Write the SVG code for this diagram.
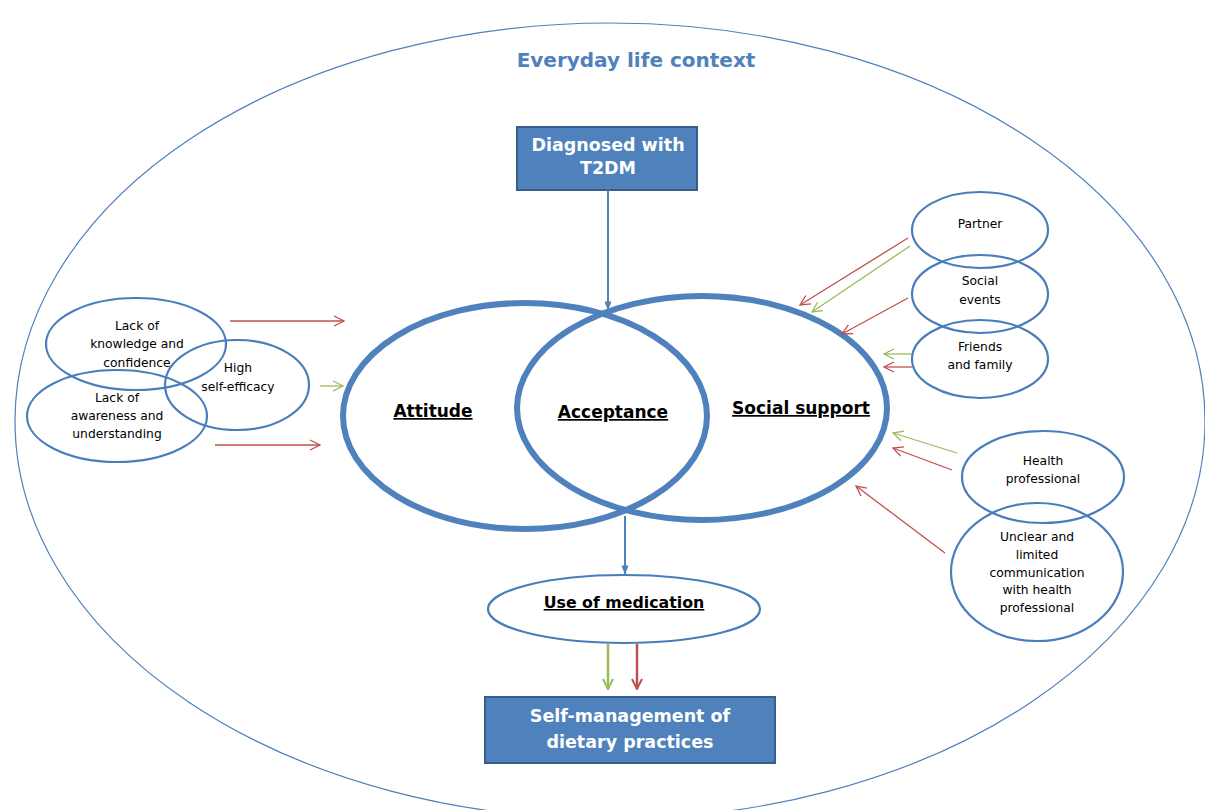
<svg xmlns="http://www.w3.org/2000/svg" width="1205" height="810" viewBox="0 0 1205 810">
<defs>
<style>
.t{font-family:"DejaVu Sans",Verdana,sans-serif;text-anchor:middle;}
.sm{font-size:12.3px;fill:#000;}
.bw{font-size:17.5px;font-weight:bold;fill:#fff;}
.bu{font-size:17px;font-weight:bold;fill:#000;text-decoration:underline;}
.small{fill:#fff;stroke:#4A7EBB;stroke-width:2.2;}
.big{fill:none;stroke:#4F81BD;stroke-width:6;}
.box{fill:#4F81BD;stroke:#385D8A;stroke-width:2;}
.r{stroke:#C0504D;stroke-width:1.3;fill:none;marker-end:url(#mr);}
.g{stroke:#9BBB59;stroke-width:1.3;fill:none;marker-end:url(#mg);}
.b{stroke:#4F81BD;stroke-width:2;fill:none;marker-end:url(#mb);}
.r2{stroke:#C0504D;stroke-width:2.5;fill:none;marker-end:url(#mr2);}
.g2{stroke:#9BBB59;stroke-width:2.5;fill:none;marker-end:url(#mg2);}
</style>
<marker id="mr" viewBox="0 0 12 12" refX="11" refY="6" markerWidth="12" markerHeight="12" markerUnits="userSpaceOnUse" orient="auto"><path d="M1,1 L11,6 L1,11" fill="none" stroke="#C0504D" stroke-width="1.3"/></marker>
<marker id="mg" viewBox="0 0 12 12" refX="11" refY="6" markerWidth="12" markerHeight="12" markerUnits="userSpaceOnUse" orient="auto"><path d="M1,1 L11,6 L1,11" fill="none" stroke="#9BBB59" stroke-width="1.3"/></marker>
<marker id="mb" viewBox="0 0 10 10" refX="9.5" refY="5" markerWidth="9" markerHeight="9" markerUnits="userSpaceOnUse" orient="auto"><path d="M0,1 L10,5 L0,9 Z" fill="#4F81BD"/></marker>
<marker id="mr2" viewBox="0 0 12 12" refX="11" refY="6" markerWidth="12" markerHeight="12" markerUnits="userSpaceOnUse" orient="auto"><path d="M1,1 L11,6 L1,11" fill="none" stroke="#C0504D" stroke-width="2"/></marker>
<marker id="mg2" viewBox="0 0 12 12" refX="11" refY="6" markerWidth="12" markerHeight="12" markerUnits="userSpaceOnUse" orient="auto"><path d="M1,1 L11,6 L1,11" fill="none" stroke="#9BBB59" stroke-width="2"/></marker>
</defs>
<rect width="1205" height="810" fill="#fff"/>
<g id="context">
<ellipse cx="610" cy="421" rx="595" ry="398" fill="none" stroke="#4F81BD" stroke-width="1.2"/>
<text class="t" x="636" y="67" style="font-size:20px;font-weight:bold;fill:#4F81BD">Everyday life context</text>
</g>
<g id="diagnosed">
<rect class="box" x="517" y="127" width="180" height="63"/>
<text class="t bw" x="608" y="151">Diagnosed with</text>
<text class="t bw" x="608" y="174">T2DM</text>
</g>
<g id="attitude">
<ellipse class="big" cx="525" cy="416" rx="182" ry="113"/>
<text class="t bu" x="433" y="417">Attitude</text>
</g>
<g id="social-support">
<ellipse class="big" cx="702" cy="408" rx="185" ry="112"/>
<text class="t bu" x="801" y="414">Social support</text>
</g>
<g id="acceptance">
<text class="t bu" x="613" y="418">Acceptance</text>
</g>
<g id="lack-knowledge">
<ellipse class="small" cx="136" cy="344" rx="90" ry="46" fill="none"/>
</g>
<g id="lack-awareness">
<ellipse class="small" cx="117" cy="416" rx="90" ry="46" style="fill:none"/>
</g>
<g id="self-efficacy">
<ellipse class="small" cx="237" cy="385" rx="72" ry="45" style="fill:none"/>
</g>
<g id="left-texts">
<text class="t sm" x="137" y="330">Lack of</text>
<text class="t sm" x="137" y="348">knowledge and</text>
<text class="t sm" x="137" y="367">confidence</text>
<text class="t sm" x="238" y="372">High</text>
<text class="t sm" x="238" y="391">self-efficacy</text>
<text class="t sm" x="117" y="402">Lack of</text>
<text class="t sm" x="117" y="420">awareness and</text>
<text class="t sm" x="117" y="438">understanding</text>
</g>
<g id="partner">
<ellipse class="small" cx="980" cy="230" rx="68" ry="38" style="fill:none"/>
<text class="t sm" x="980" y="228">Partner</text>
</g>
<g id="social-events">
<ellipse class="small" cx="980" cy="294" rx="68" ry="39" style="fill:none"/>
<text class="t sm" x="980" y="285">Social</text>
<text class="t sm" x="980" y="304">events</text>
</g>
<g id="friends-family">
<ellipse class="small" cx="980" cy="359" rx="68" ry="39" style="fill:none"/>
<text class="t sm" x="980" y="351">Friends</text>
<text class="t sm" x="980" y="369">and family</text>
</g>
<g id="unclear-communication">
<ellipse class="small" cx="1037" cy="572" rx="86" ry="69" style="fill:none"/>
<text class="t sm" x="1037" y="541">Unclear and</text>
<text class="t sm" x="1037" y="559">limited</text>
<text class="t sm" x="1037" y="577">communication</text>
<text class="t sm" x="1037" y="594">with health</text>
<text class="t sm" x="1037" y="612">professional</text>
</g>
<g id="health-professional">
<ellipse class="small" cx="1043" cy="477" rx="81" ry="46" style="fill:none"/>
<text class="t sm" x="1043" y="465">Health</text>
<text class="t sm" x="1043" y="483">professional</text>
</g>
<g id="use-of-medication">
<ellipse class="small" cx="624" cy="609" rx="136" ry="34"/>
<text class="t" x="624" y="608" style="font-size:15.8px;font-weight:bold;text-decoration:underline;fill:#000">Use of medication</text>
</g>
<g id="self-management">
<rect class="box" x="485" y="697" width="290" height="66"/>
<text class="t bw" x="630" y="722">Self-management of</text>
<text class="t bw" x="630" y="748">dietary practices</text>
</g>
<g id="connectors">
<line class="b" x1="608" y1="190" x2="608" y2="310"/>
<line class="b" x1="625" y1="516" x2="625" y2="574"/>
<line class="g2" x1="608" y1="644" x2="608" y2="689"/>
<line class="r2" x1="637" y1="644" x2="637" y2="689"/>
<line class="r" x1="230" y1="321" x2="344" y2="321"/>
<line class="g" x1="320" y1="386" x2="343" y2="386"/>
<line class="r" x1="215" y1="445" x2="320" y2="445"/>
<line class="r" x1="908" y1="238" x2="800" y2="305"/>
<line class="g" x1="910" y1="246" x2="812" y2="312"/>
<line class="r" x1="908" y1="298" x2="842" y2="334"/>
<line class="g" x1="912" y1="354" x2="884" y2="354"/>
<line class="r" x1="912" y1="367" x2="884" y2="367"/>
<line class="g" x1="957" y1="453" x2="893" y2="433"/>
<line class="r" x1="952" y1="470" x2="893" y2="448"/>
<line class="r" x1="945" y1="553" x2="856" y2="486"/>
</g>
</svg>
